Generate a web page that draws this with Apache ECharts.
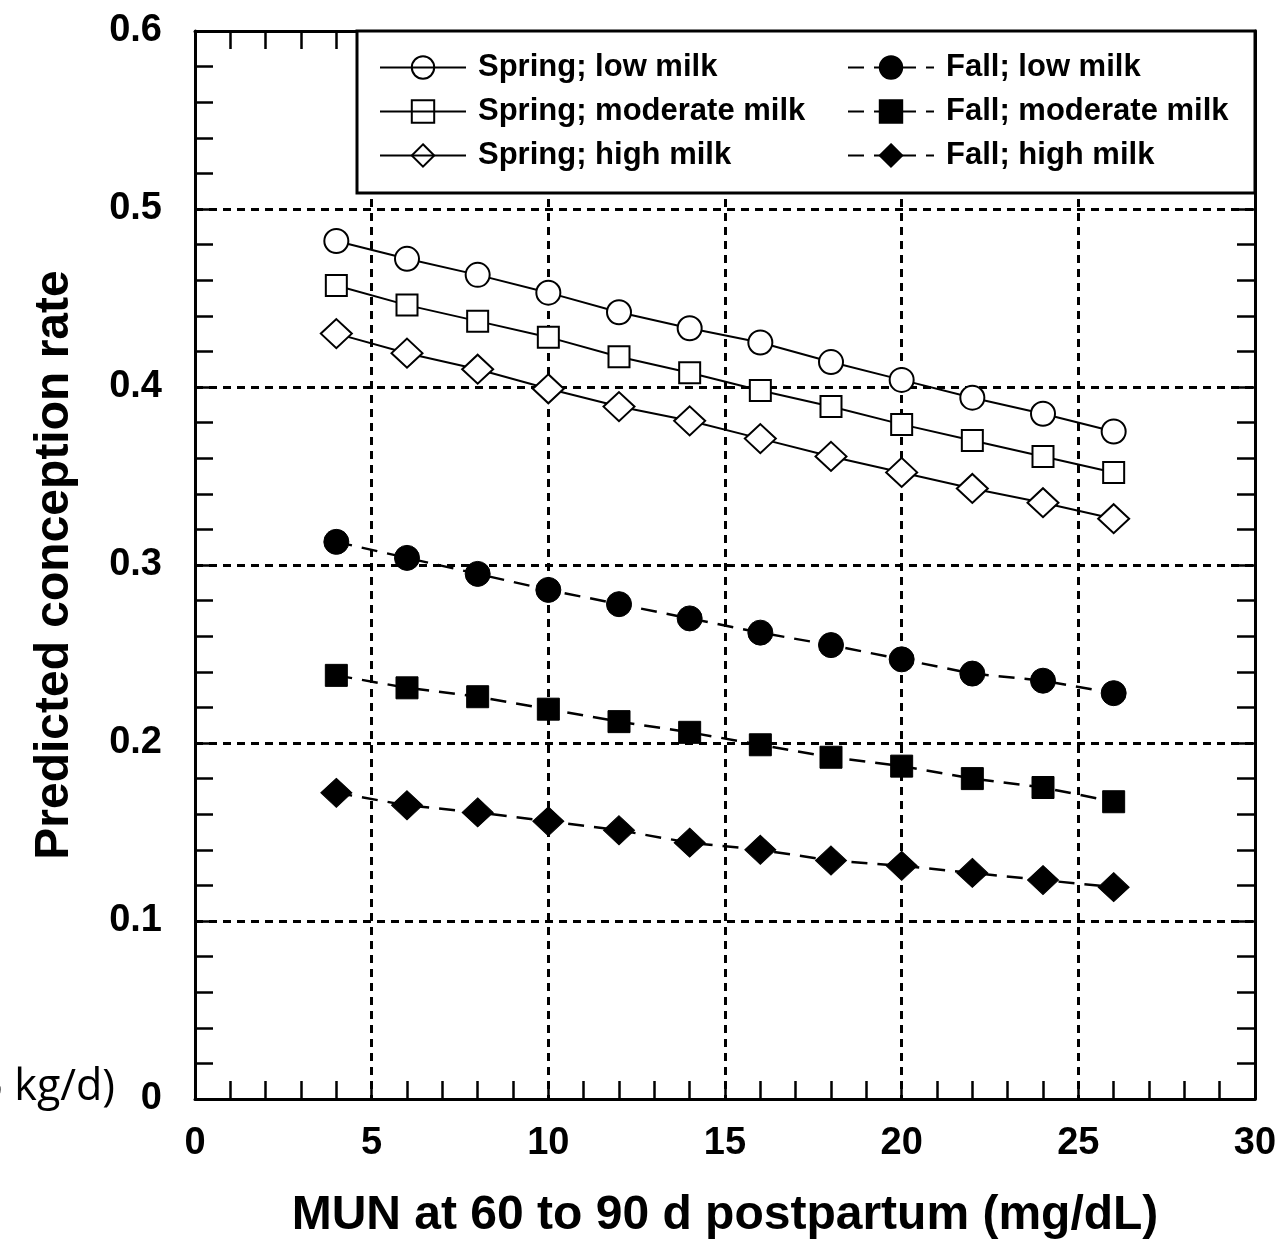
<!DOCTYPE html>
<html>
<head>
<meta charset="utf-8">
<title>Predicted conception rate vs MUN</title>
<script src="https://cdn.jsdelivr.net/npm/echarts@6/dist/echarts.min.js"></script>
<style>
  html, body { margin: 0; padding: 0; background: #fff; }
  #main { width: 1286px; height: 1244px; }
</style>
</head>
<body>
<div id="main"></div>
<script>
// MUN values (mg/dL)
var mun = [4, 6, 8, 10, 12, 14, 16, 18, 20, 22, 24, 26];

// predicted conception rate
var springLow      = [0.482, 0.472, 0.463, 0.453, 0.442, 0.433, 0.425, 0.414, 0.404, 0.394, 0.385, 0.375];
var springModerate = [0.457, 0.446, 0.437, 0.428, 0.417, 0.408, 0.398, 0.389, 0.379, 0.370, 0.361, 0.352];
var springHigh     = [0.430, 0.419, 0.410, 0.399, 0.389, 0.381, 0.371, 0.361, 0.352, 0.343, 0.335, 0.326];
var fallLow        = [0.313, 0.304, 0.295, 0.286, 0.278, 0.270, 0.262, 0.255, 0.247, 0.239, 0.235, 0.228];
var fallModerate   = [0.238, 0.231, 0.226, 0.219, 0.212, 0.206, 0.199, 0.192, 0.187, 0.180, 0.175, 0.167];
var fallHigh       = [0.172, 0.165, 0.161, 0.156, 0.151, 0.144, 0.140, 0.134, 0.131, 0.127, 0.123, 0.119];

var springNames = ['Spring; low milk', 'Spring; moderate milk', 'Spring; high milk'];
var fallNames   = ['Fall; low milk', 'Fall; moderate milk', 'Fall; high milk'];

var FONT = '"Liberation Sans", Arial, Helvetica, sans-serif';

function pairs(vals) {
  var out = [];
  for (var i = 0; i < mun.length; i++) out.push([mun[i], vals[i]]);
  return out;
}

function springSeries(name, vals, symbol, size) {
  return {
    name: name, type: 'line', xAxisIndex: 0, yAxisIndex: 0,
    data: pairs(vals), symbol: symbol, symbolSize: size,
    lineStyle: { color: '#000', width: 2, type: 'solid' },
    itemStyle: { color: '#fff', borderColor: '#000', borderWidth: 2 },
    z: 5
  };
}
function fallSeries(name, vals, symbol, size) {
  return {
    name: name, type: 'line', xAxisIndex: 0, yAxisIndex: 0,
    data: pairs(vals), symbol: symbol, symbolSize: size,
    lineStyle: { color: '#000', width: 2.5, type: [16, 10] },
    itemStyle: { color: '#000', borderColor: '#000', borderWidth: 1 },
    z: 5
  };
}

var axisLine = { show: true, onZero: false, lineStyle: { color: '#000', width: 3 } };
var tick = { show: true, inside: true, length: 18, lineStyle: { color: '#000', width: 2.5 } };
var minor = { show: true, splitNumber: 5, length: 18, lineStyle: { color: '#000', width: 2.5 } };
var dashGrid = { show: true, lineStyle: { color: '#000', width: 3, type: [8, 6] } };
var labelStyle = { fontFamily: FONT, fontWeight: 'bold', fontSize: 38, color: '#000' };

var myChart = echarts.init(document.getElementById('main'));
var option = {
  animation: false,
  backgroundColor: '#fff',
  grid: { left: 195, right: 31, top: 31, bottom: 145, containLabel: false, outerBoundsMode: 'none' },
  xAxis: [
    {
      type: 'value', position: 'bottom', min: 0, max: 30, interval: 5,
      name: 'MUN at 60 to 90 d postpartum (mg/dL)', nameLocation: 'middle', nameGap: 93,
      nameTextStyle: { fontFamily: FONT, fontWeight: 'bold', fontSize: 48, color: '#000' },
      axisLine: axisLine, axisTick: tick, minorTick: minor,
      axisLabel: Object.assign({ margin: 26 }, labelStyle),
      splitLine: dashGrid
    },
    {
      type: 'value', position: 'top', min: 0, max: 30, interval: 5,
      axisLine: axisLine, axisTick: tick, minorTick: minor,
      axisLabel: { show: false }, splitLine: { show: false }
    }
  ],
  yAxis: [
    {
      type: 'value', position: 'left', min: 0, max: 0.6, interval: 0.1,
      name: 'Predicted conception rate', nameLocation: 'middle', nameGap: 116, nameRotate: 90,
      nameTextStyle: { fontFamily: FONT, fontWeight: 'bold', fontSize: 48, color: '#000' },
      axisLine: axisLine, axisTick: tick, minorTick: minor,
      axisLabel: Object.assign({ margin: 33 }, labelStyle),
      splitLine: dashGrid
    },
    {
      type: 'value', position: 'right', min: 0, max: 0.6, interval: 0.1,
      axisLine: axisLine, axisTick: tick, minorTick: minor,
      axisLabel: { show: false }, splitLine: { show: false }
    }
  ],
  legend: [
    {
      data: springNames, orient: 'vertical', left: 379, top: 52,
      itemWidth: 86, itemHeight: 28, itemGap: 13, padding: 0, z: 20,
      itemStyle: { color: 'rgba(255,255,255,0)', borderColor: '#000', borderWidth: 2 },
      textStyle: { fontFamily: FONT, fontWeight: 'bold', fontSize: 31, color: '#000', padding: [0, 0, 0, 7] }
    },
    {
      data: fallNames, orient: 'vertical', left: 847, top: 52,
      itemWidth: 86, itemHeight: 28, itemGap: 13, padding: 0, z: 20,
      textStyle: { fontFamily: FONT, fontWeight: 'bold', fontSize: 31, color: '#000', padding: [0, 0, 0, 7] }
    }
  ],
  graphic: [
    {
      type: 'rect', z: 15,
      shape: { x: 357, y: 31, width: 898, height: 162 },
      style: { fill: '#fff', stroke: '#000', lineWidth: 3 }
    },
    {
      type: 'text', z: 15,
      x: 115, y: 1088,
      style: { text: '45 kg/d)', fontFamily: '"Open Sans", "Noto Sans", sans-serif', fontSize: 43,
               fill: '#000', textAlign: 'right', textVerticalAlign: 'middle' }
    }
  ],
  series: [
    springSeries(springNames[0], springLow, 'circle', 24),
    springSeries(springNames[1], springModerate, 'rect', 21),
    springSeries(springNames[2], springHigh, 'diamond', [31, 29]),
    fallSeries(fallNames[0], fallLow, 'circle', 25),
    fallSeries(fallNames[1], fallModerate, 'rect', 22),
    fallSeries(fallNames[2], fallHigh, 'diamond', [31, 29])
  ]
};
myChart.setOption(option);
</script>
</body>
</html>
